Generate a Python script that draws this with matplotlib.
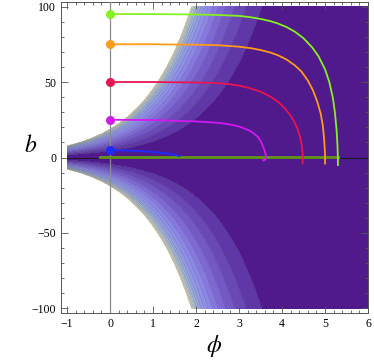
import numpy as np
import matplotlib
matplotlib.use("Agg")
import matplotlib.pyplot as plt

plt.rcParams['mathtext.fontset'] = 'stix'
plt.rcParams['font.family'] = ['Liberation Serif', 'DejaVu Serif']

# shaded region: |b| * exp(-growth*phi) < edge
edge_at_phi0 = 19.0
growth = 0.88
phi_min = -1.0
# contour levels of that quantity (inner -> outer)
levels = [0, 4.5, 6.2, 7.8, 9.4, 10.9, 12.2, 13.4, 14.5, 15.5, 16.3,
          17.0, 17.6, 18.1, 18.5, 18.8, 19.0]
band_colors = ["#50198C", "#5F37A6", "#6A48B6", "#7458C6", "#7E68D4",
               "#8678DE", "#8C86E6", "#9090EA", "#9498E8", "#98A4E2",
               "#9EB0DE", "#A8BCDA", "#B8C8D8", "#CCD4D2", "#DEDCCC", "#EEE6D0"]

# trajectories (phi, b)
green_phi = [0, 1, 2, 2.5, 3.0, 3.25, 3.5, 3.72, 3.9, 4.1, 4.3, 4.5, 4.7, 4.85,
             5.0, 5.1, 5.18, 5.23, 5.27, 5.29, 5.30, 5.30]
green_b = [95, 95, 94.7, 94.4, 93.8, 93.0, 91.8, 90.4, 88.8, 86.5, 83.3, 79, 73,
           67, 58.5, 50, 40, 30, 18, 8, 0, -5]
orange_phi = [0, 1, 2, 2.5, 3.0, 3.3, 3.5, 3.72, 3.9, 4.1, 4.3, 4.45, 4.6, 4.72,
              4.82, 4.9, 4.95, 4.98, 5.0, 5.0]
orange_b = [75, 75, 74.7, 74.4, 73.4, 72.3, 71.2, 69.6, 67.8, 65, 61, 57, 51, 44.5,
            37, 29, 21, 12, 3, -4]
red_phi = [0, 1, 2, 2.5, 2.8, 3.0, 3.2, 3.4, 3.57, 3.75, 3.9, 4.05, 4.18, 4.28,
           4.36, 4.42, 4.46, 4.48, 4.48]
red_b = [50, 50, 49.7, 49.3, 48.5, 47.6, 46.3, 44.6, 42.7, 40, 37, 33, 28.5, 24,
         19, 13.5, 8, 2, -4]
magenta_phi = [0, 1, 2, 2.5, 2.7, 2.87, 3.0, 3.12, 3.26, 3.36, 3.44, 3.5, 3.55,
               3.59, 3.62, 3.63, 3.61, 3.56]
magenta_b = [25, 24.8, 23.9, 23.0, 22.3, 21.4, 20.5, 19.3, 17.6, 15.6, 13.5, 11,
             8, 5, 2, 0, -1.5, -1.9]
blue_phi = [0, 0.3, 0.6, 0.9, 1.1, 1.3, 1.45, 1.55, 1.62]
blue_b = [4.8, 4.7, 4.4, 3.9, 3.4, 2.8, 2.1, 1.5, 0.9]
flat_phi = [-0.23, 5.3]
flat_b = [0.3, 0.3]

curves = [
    (green_phi, green_b, "#86F020"),
    (orange_phi, orange_b, "#FF9A1A"),
    (red_phi, red_b, "#E8154F"),
    (magenta_phi, magenta_b, "#D21AF0"),
    (blue_phi, blue_b, "#1E2CFF"),
]

fig = plt.figure(figsize=(3.74, 3.61), dpi=100)
ax = fig.add_axes([61 / 374, 1 - 313 / 361, 307 / 374, 311 / 361])

phi = np.linspace(phi_min, 6, 600)
b = np.linspace(-100, 100, 600)
P, B = np.meshgrid(phi, b)
U = np.abs(B) * np.exp(-growth * P)
U = np.ma.masked_where(U > edge_at_phi0, U)

ax.contourf(P, B, U, levels=levels, colors=band_colors, zorder=1)
ax.contour(P, B, U, levels=levels[1:], colors="#404040", linewidths=0.4,
           alpha=0.35, zorder=2)

ax.axvline(0, color="#8c8c8c", lw=0.9, zorder=3)
ax.plot([phi_min, 6], [0, 0], color="#1a1a2a", lw=0.8, zorder=3)
ax.plot(flat_phi, flat_b, color="#64961A", lw=2.0, zorder=4)

for xs, ys, c in curves:
    ax.plot(xs, ys, color=c, lw=1.3, zorder=5)
    ax.plot(xs[0], ys[0], "o", color=c, ms=5.5, zorder=6)

ax.set_xlim(-1.14, 6.0)
ax.set_ylim(-103, 103)
ax.set_xticks(range(-1, 7))
ax.set_xticklabels(["\u22121", "0", "1", "2", "3", "4", "5", "6"])
ax.set_yticks([-100, -50, 0, 50, 100])
ax.set_yticklabels(["\u2212100", "\u221250", "0", "50", "100"])
ax.set_xticks(np.arange(-1, 6.01, 0.2), minor=True)
ax.set_yticks(np.arange(-100, 101, 10), minor=True)
ax.tick_params(which="both", direction="in", top=True, right=True,
               labelsize=8.5, color="#555555", width=0.6)
ax.tick_params(which="major", length=5)
ax.tick_params(which="minor", length=2.5)
for s in ax.spines.values():
    s.set_color("#555555")
    s.set_linewidth(0.7)

ax.set_xlabel(r"$\phi$", fontsize=17, labelpad=2)
ax.set_ylabel(r"$b$", fontsize=17, rotation=0, labelpad=10)
ax.yaxis.set_label_coords(-0.1, 0.5)

fig.savefig("out.png", dpi=100)
